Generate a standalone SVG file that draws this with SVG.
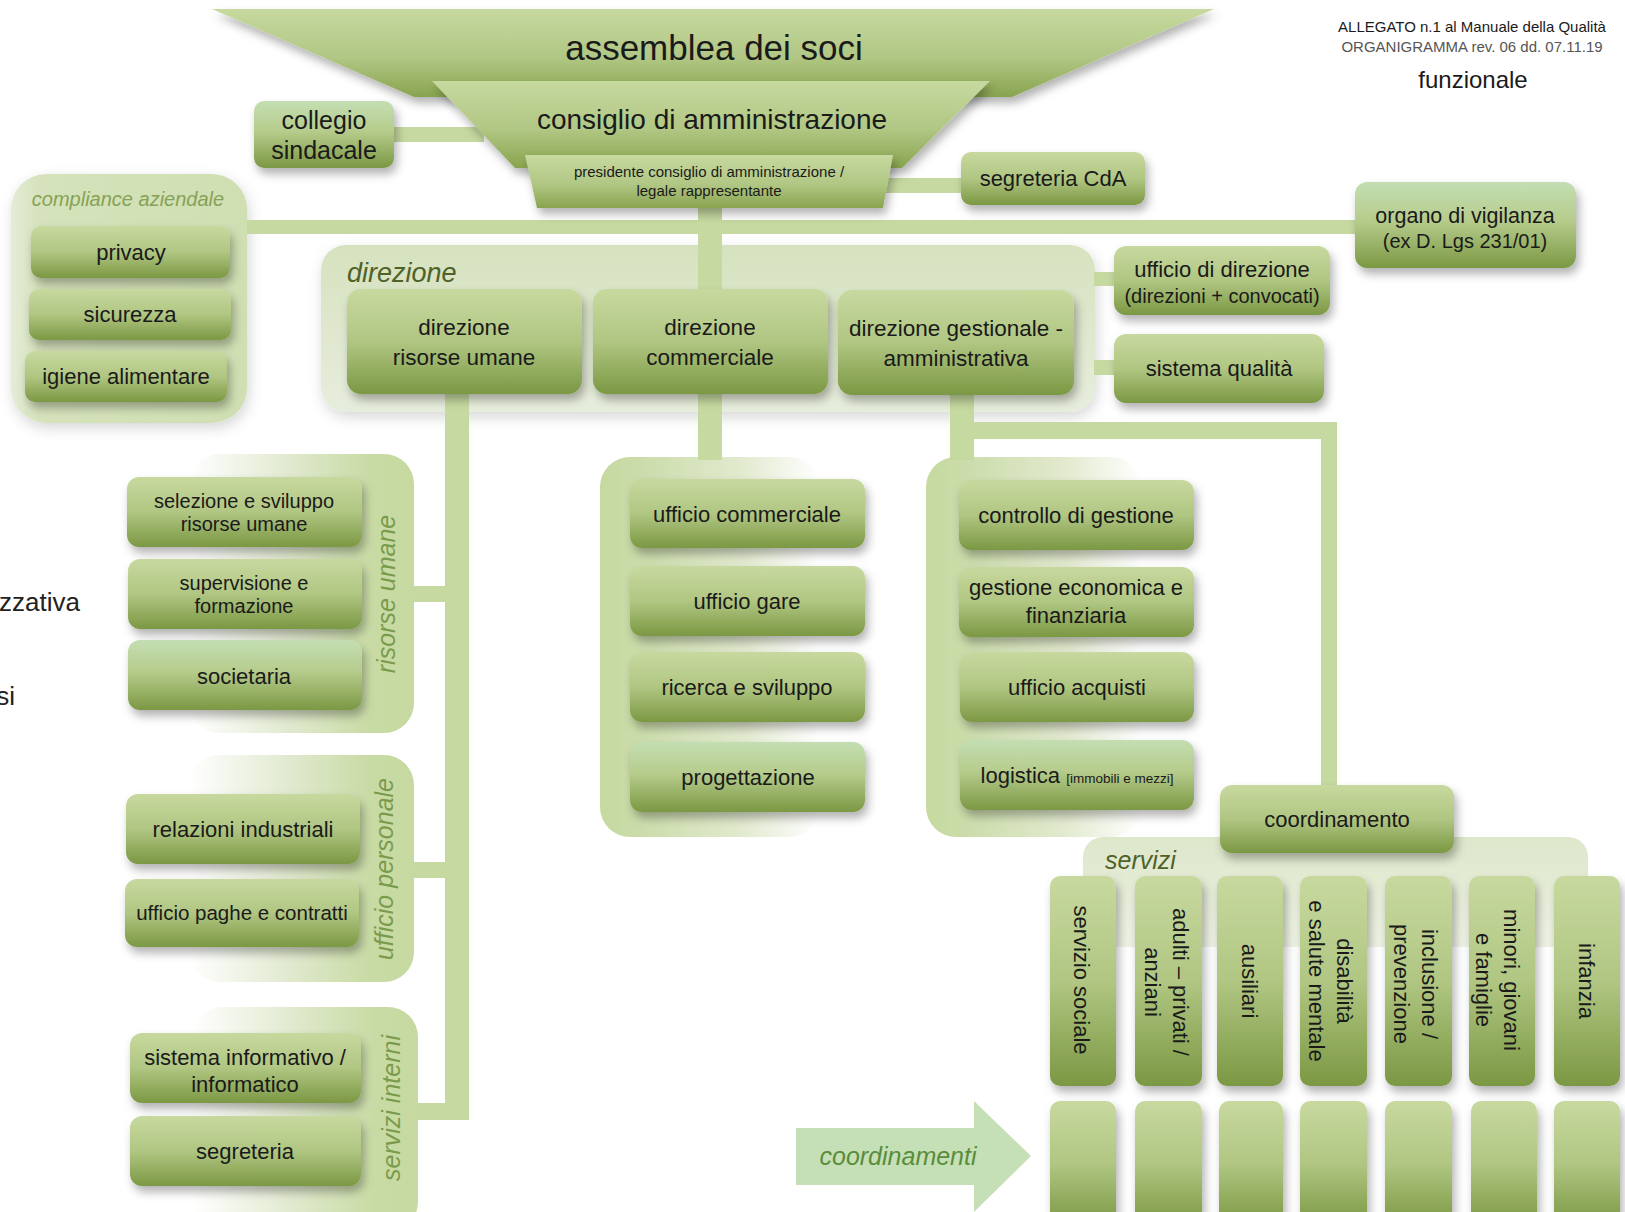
<svg xmlns="http://www.w3.org/2000/svg" width="1625" height="1212" viewBox="0 0 1625 1212">
<defs>
<linearGradient id="gBox" x1="0" y1="0" x2="0" y2="1">
<stop offset="0" stop-color="#c8d99f"/>
<stop offset="0.5" stop-color="#b0c682"/>
<stop offset="1" stop-color="#7b9843"/>
</linearGradient>
<linearGradient id="gBoxL" x1="0" y1="0" x2="0" y2="1">
<stop offset="0" stop-color="#c3deb2"/>
<stop offset="0.45" stop-color="#b6cc8c"/>
<stop offset="1" stop-color="#7b9843"/>
</linearGradient>
<linearGradient id="gTrap" x1="0" y1="0" x2="0" y2="1">
<stop offset="0" stop-color="#c7d99f"/>
<stop offset="0.55" stop-color="#b1c784"/>
<stop offset="1" stop-color="#88a44f"/>
</linearGradient>
<linearGradient id="gComp" x1="0" y1="0" x2="1" y2="0">
<stop offset="0" stop-color="#e4ecd7"/>
<stop offset="0.12" stop-color="#d5e2bb"/>
<stop offset="1" stop-color="#d0dfb2"/>
</linearGradient>
<linearGradient id="gDir" x1="0" y1="0" x2="0" y2="1">
<stop offset="0" stop-color="#d6e2bf"/>
<stop offset="1" stop-color="#e7eddc"/>
</linearGradient>
<linearGradient id="gSide" x1="0" y1="0" x2="1" y2="0">
<stop offset="0" stop-color="#ffffff"/>
<stop offset="0.45" stop-color="#e0e9ce"/>
<stop offset="0.8" stop-color="#c9dba5"/>
<stop offset="1" stop-color="#c6d9a0"/>
</linearGradient>
<linearGradient id="gCol" x1="0" y1="0" x2="1" y2="0">
<stop offset="0" stop-color="#c6d9a0"/>
<stop offset="0.18" stop-color="#cbdcaa"/>
<stop offset="0.65" stop-color="#e2eacf"/>
<stop offset="1" stop-color="#ffffff"/>
</linearGradient>
<linearGradient id="gServ" x1="0" y1="0" x2="0" y2="1">
<stop offset="0" stop-color="#dde7ca"/>
<stop offset="1" stop-color="#eef2e4"/>
</linearGradient>
<filter id="sh" x="-20%" y="-20%" width="150%" height="160%">
<feDropShadow dx="3" dy="6" stdDeviation="5" flood-color="#000" flood-opacity="0.3"/>
</filter>
<filter id="shL" x="-20%" y="-20%" width="150%" height="150%">
<feDropShadow dx="2" dy="5" stdDeviation="7" flood-color="#000" flood-opacity="0.16"/>
</filter>
<style>
.box{fill:url(#gBox);filter:url(#sh)}
.boxL{fill:url(#gBoxL);filter:url(#sh)}
.trap{fill:url(#gTrap);filter:url(#sh)}
.conn{fill:#c6d9a0}
.t{font-family:"Liberation Sans",Arial,Helvetica,sans-serif;fill:#1a1a1a;text-anchor:middle}
.lab{font-family:"Liberation Sans",Arial,Helvetica,sans-serif;font-style:italic}
.side{fill:#7a9a4c;font-size:25px;text-anchor:middle}
</style>
</defs>
<rect width="1625" height="1212" fill="#ffffff"/>

<!-- header -->
<g id="header">
<text class="t" x="1472" y="32" font-size="15">ALLEGATO n.1 al Manuale della Qualità</text>
<text class="t" x="1472" y="52" font-size="15" style="fill:#555">ORGANIGRAMMA rev. 06 dd. 07.11.19</text>
<text class="t" x="1473" y="88" font-size="24">funzionale</text>
<text class="t" x="80" y="611" font-size="26" style="text-anchor:end;fill:#222">zzativa</text>
<text class="t" x="15" y="705" font-size="26" style="text-anchor:end;fill:#222">si</text>
</g>

<!-- containers -->
<g id="container-compliance">
<rect x="11" y="174" width="236" height="249" rx="35" fill="url(#gComp)" filter="url(#shL)"/>
<text class="lab" x="128" y="206" font-size="20" fill="#86a256" text-anchor="middle">compliance aziendale</text>
</g>
<g id="container-direzione">
<rect x="321" y="245" width="774" height="167" rx="25" fill="url(#gDir)" filter="url(#shL)"/>
<text class="lab" x="347" y="282" font-size="27" fill="#4f6228">direzione</text>
</g>
<g id="container-risorse-umane">
<rect x="190" y="454" width="224" height="279" rx="30" fill="url(#gSide)"/>
<text class="lab side" transform="translate(395,594) rotate(-90)">risorse umane</text>
</g>
<g id="container-ufficio-personale">
<rect x="190" y="755" width="224" height="227" rx="30" fill="url(#gSide)"/>
<text class="lab side" transform="translate(393,869) rotate(-90)">ufficio personale</text>
</g>
<g id="container-servizi-interni">
<rect x="193" y="1007" width="225" height="225" rx="30" fill="url(#gSide)"/>
<text class="lab side" transform="translate(400,1108) rotate(-90)">servizi interni</text>
</g>
<g id="container-commerciale">
<rect x="600" y="457" width="219" height="380" rx="30" fill="url(#gCol)"/>
</g>
<g id="container-gestionale">
<rect x="926" y="457" width="215" height="380" rx="30" fill="url(#gCol)"/>
</g>
<g id="container-servizi">
<rect x="1083" y="837" width="505" height="110" rx="20" fill="url(#gServ)"/>
<text class="lab" x="1105" y="869" font-size="25" fill="#4f6228">servizi</text>
</g>

<!-- connectors -->
<g id="connectors">
<rect class="conn" x="394" y="127" width="90" height="15"/>
<rect class="conn" x="880" y="178" width="82" height="15"/>
<rect class="conn" x="247" y="220" width="1110" height="14"/>
<rect class="conn" x="698" y="205" width="24" height="86"/>
<rect class="conn" x="1094" y="272" width="21" height="14"/>
<rect class="conn" x="1094" y="360" width="21" height="15"/>
<rect class="conn" x="445" y="392" width="24" height="728"/>
<rect class="conn" x="413" y="586" width="33" height="16"/>
<rect class="conn" x="413" y="862" width="33" height="16"/>
<rect class="conn" x="417" y="1103" width="52" height="17"/>
<rect class="conn" x="698" y="392" width="24" height="68"/>
<rect class="conn" x="950" y="392" width="24" height="68"/>
<rect class="conn" x="950" y="422" width="387" height="17"/>
<rect class="conn" x="1321" y="422" width="16" height="366"/>
<g id="arrow-coordinamenti">
<polygon points="796,1128 974,1128 974,1101 1031,1156 974,1212 974,1185 796,1185" fill="#c5e0b6"/>
<text class="lab" x="898" y="1165" font-size="25" fill="#5a8d3b" text-anchor="middle">coordinamenti</text>
</g>
</g>

<!-- governance -->
<g id="assemblea">
<polygon class="trap" points="212,9 1214,9 1012,97 414,97"/>
<text class="t" x="714" y="60" font-size="35">assemblea dei soci</text>
</g>
<g id="consiglio">
<polygon class="trap" points="432,81 990,81 902,168 515,168"/>
<text class="t" x="712" y="129" font-size="28">consiglio di amministrazione</text>
</g>
<g id="presidente">
<polygon class="trap" points="525,155 893,155 883,208 537,208"/>
<text class="t" x="709" y="177" font-size="15">presidente consiglio di amministrazione /</text>
<text class="t" x="709" y="196" font-size="15">legale rappresentante</text>
</g>
<g id="collegio">
<rect class="boxL" x="254" y="101" width="140" height="67" rx="10"/>
<text class="t" x="324" y="129" font-size="25">collegio</text>
<text class="t" x="324" y="159" font-size="25">sindacale</text>
</g>
<g id="segreteria-cda">
<rect class="box" x="961" y="152" width="184" height="53" rx="10"/>
<text class="t" x="1053" y="186" font-size="22">segreteria CdA</text>
</g>
<g id="organo-vigilanza">
<rect class="boxL" x="1355" y="182" width="221" height="86" rx="12"/>
<text class="t" x="1465" y="223" font-size="21.5">organo di vigilanza</text>
<text class="t" x="1465" y="248" font-size="20">(ex D. Lgs 231/01)</text>
</g>

<!-- compliance -->
<g id="privacy">
<rect class="box" x="31" y="226" width="199" height="52" rx="10"/>
<text class="t" x="131" y="260" font-size="22">privacy</text>
</g>
<g id="sicurezza">
<rect class="box" x="29" y="289" width="202" height="51" rx="10"/>
<text class="t" x="130" y="322" font-size="22">sicurezza</text>
</g>
<g id="igiene">
<rect class="box" x="25" y="351" width="202" height="51" rx="10"/>
<text class="t" x="126" y="384" font-size="22">igiene alimentare</text>
</g>

<!-- direzione -->
<g id="dir-ru">
<rect class="box" x="347" y="289" width="235" height="105" rx="14"/>
<text class="t" x="464" y="335" font-size="22.5">direzione</text>
<text class="t" x="464" y="365" font-size="22.5">risorse umane</text>
</g>
<g id="dir-comm">
<rect class="box" x="593" y="289" width="235" height="105" rx="14"/>
<text class="t" x="710" y="335" font-size="22.5">direzione</text>
<text class="t" x="710" y="365" font-size="22.5">commerciale</text>
</g>
<g id="dir-gest">
<rect class="box" x="838" y="290" width="236" height="105" rx="14"/>
<text class="t" x="956" y="336" font-size="22.5">direzione gestionale -</text>
<text class="t" x="956" y="366" font-size="22.5">amministrativa</text>
</g>
<g id="ufficio-direzione">
<rect class="box" x="1114" y="246" width="216" height="69" rx="12"/>
<text class="t" x="1222" y="277" font-size="22">ufficio di direzione</text>
<text class="t" x="1222" y="303" font-size="20">(direzioni + convocati)</text>
</g>
<g id="sistema-qualita">
<rect class="box" x="1114" y="334" width="210" height="69" rx="12"/>
<text class="t" x="1219" y="376" font-size="22">sistema qualità</text>
</g>

<!-- risorse umane -->
<g id="selezione">
<rect class="box" x="127" y="477" width="235" height="70" rx="12"/>
<text class="t" x="244" y="508" font-size="20">selezione e sviluppo</text>
<text class="t" x="244" y="531" font-size="20">risorse umane</text>
</g>
<g id="supervisione">
<rect class="box" x="128" y="559" width="234" height="70" rx="12"/>
<text class="t" x="244" y="590" font-size="20">supervisione e</text>
<text class="t" x="244" y="613" font-size="20">formazione</text>
</g>
<g id="societaria">
<rect class="boxL" x="128" y="640" width="234" height="70" rx="12"/>
<text class="t" x="244" y="684" font-size="22">societaria</text>
</g>
<g id="relazioni">
<rect class="box" x="126" y="794" width="234" height="70" rx="12"/>
<text class="t" x="243" y="837" font-size="22">relazioni industriali</text>
</g>
<g id="paghe">
<rect class="box" x="125" y="879" width="234" height="68" rx="12"/>
<text class="t" x="242" y="920" font-size="20.5">ufficio paghe e contratti</text>
</g>
<g id="sistema-informativo">
<rect class="box" x="130" y="1033" width="231" height="70" rx="12"/>
<text class="t" x="245" y="1065" font-size="22">sistema informativo /</text>
<text class="t" x="245" y="1092" font-size="22">informatico</text>
</g>
<g id="segreteria">
<rect class="box" x="130" y="1116" width="231" height="70" rx="12"/>
<text class="t" x="245" y="1159" font-size="22">segreteria</text>
</g>

<!-- commerciale -->
<g id="ufficio-commerciale">
<rect class="box" x="630" y="479" width="235" height="69" rx="12"/>
<text class="t" x="747" y="522" font-size="22">ufficio commerciale</text>
</g>
<g id="ufficio-gare">
<rect class="box" x="630" y="566" width="235" height="70" rx="12"/>
<text class="t" x="747" y="609" font-size="22">ufficio gare</text>
</g>
<g id="ricerca">
<rect class="box" x="630" y="652" width="235" height="70" rx="12"/>
<text class="t" x="747" y="695" font-size="22">ricerca e sviluppo</text>
</g>
<g id="progettazione">
<rect class="boxL" x="630" y="742" width="235" height="70" rx="12"/>
<text class="t" x="748" y="785" font-size="22">progettazione</text>
</g>

<!-- gestionale -->
<g id="controllo">
<rect class="box" x="959" y="480" width="235" height="70" rx="12"/>
<text class="t" x="1076" y="523" font-size="22">controllo di gestione</text>
</g>
<g id="gestione-economica">
<rect class="box" x="959" y="567" width="235" height="70" rx="12"/>
<text class="t" x="1076" y="595" font-size="22">gestione economica e</text>
<text class="t" x="1076" y="623" font-size="22">finanziaria</text>
</g>
<g id="acquisti">
<rect class="box" x="960" y="652" width="234" height="70" rx="12"/>
<text class="t" x="1077" y="695" font-size="22">ufficio acquisti</text>
</g>
<g id="logistica">
<rect class="boxL" x="960" y="740" width="234" height="70" rx="12"/>
<text class="t" x="1077" y="783" font-size="22">logistica <tspan font-size="13.5">[immobili e mezzi]</tspan></text>
</g>

<!-- coordinamento -->
<g id="coordinamento">
<rect class="box" x="1220" y="785" width="234" height="68" rx="12"/>
<text class="t" x="1337" y="827" font-size="22">coordinamento</text>
</g>

<!-- servizi -->
<g id="srv-1">
<rect class="box" x="1050" y="876" width="66" height="210" rx="10"/>
<text class="t" font-size="22" transform="translate(1082,980) rotate(90)" y="8">servizio sociale</text>
</g>
<g id="srv-2">
<rect class="box" x="1135" y="876" width="67" height="210" rx="10"/>
<g class="t" font-size="22" transform="translate(1167,982) rotate(90)">
<text class="t" y="-6">adulti – privati  /</text>
<text class="t" y="22">anziani</text>
</g>
</g>
<g id="srv-3">
<rect class="box" x="1217" y="876" width="66" height="210" rx="10"/>
<text class="t" font-size="22" transform="translate(1250,981) rotate(90)" y="8">ausiliari</text>
</g>
<g id="srv-4">
<rect class="box" x="1300" y="876" width="67" height="210" rx="10"/>
<g font-size="22" transform="translate(1331,981) rotate(90)">
<text class="t" y="-6">disabilità</text>
<text class="t" y="22">e salute mentale</text>
</g>
</g>
<g id="srv-5">
<rect class="box" x="1385" y="876" width="67" height="210" rx="10"/>
<g font-size="22" transform="translate(1416,984) rotate(90)">
<text class="t" y="-6">inclusione /</text>
<text class="t" y="22">prevenzione</text>
</g>
</g>
<g id="srv-6">
<rect class="box" x="1469" y="876" width="66" height="210" rx="10"/>
<g font-size="22" transform="translate(1498,980) rotate(90)">
<text class="t" y="-6">minori, giovani</text>
<text class="t" y="22">e famiglie</text>
</g>
</g>
<g id="srv-7">
<rect class="box" x="1554" y="876" width="66" height="210" rx="10"/>
<text class="t" font-size="22" transform="translate(1587,981) rotate(90)" y="8">infanzia</text>
</g>

<!-- coordinamenti row -->
<g id="coord-1"><rect class="box" x="1050" y="1101" width="66" height="125" rx="10"/></g>
<g id="coord-2"><rect class="box" x="1135" y="1101" width="67" height="125" rx="10"/></g>
<g id="coord-3"><rect class="box" x="1219" y="1101" width="64" height="125" rx="10"/></g>
<g id="coord-4"><rect class="box" x="1300" y="1101" width="67" height="125" rx="10"/></g>
<g id="coord-5"><rect class="box" x="1385" y="1101" width="67" height="125" rx="10"/></g>
<g id="coord-6"><rect class="box" x="1471" y="1101" width="66" height="125" rx="10"/></g>
<g id="coord-7"><rect class="box" x="1554" y="1101" width="66" height="125" rx="10"/></g>
</svg>
